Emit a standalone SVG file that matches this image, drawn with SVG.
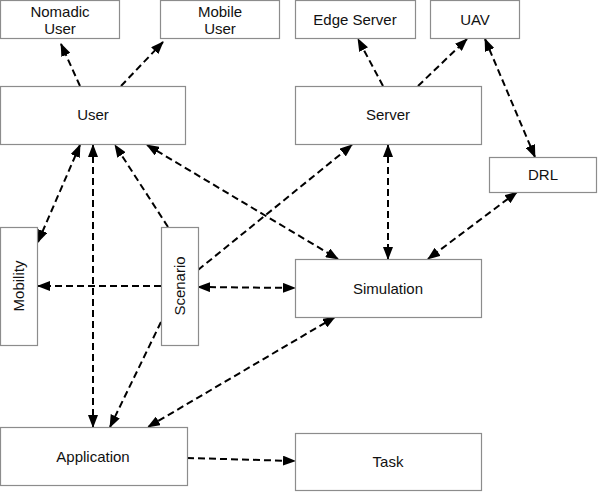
<svg xmlns="http://www.w3.org/2000/svg" width="598" height="492" viewBox="0 0 598 492">
<style>
.box{fill:#fff;stroke:#8c8c8c;stroke-width:1.2}
.t{font-family:"Liberation Sans",Arial,sans-serif;font-size:15px;fill:#111;text-anchor:middle}
.c{fill:none;stroke:#000;stroke-width:2;stroke-dasharray:7 4}
.e{marker-end:url(#a)}
.b{marker-start:url(#a);marker-end:url(#a)}
</style>
<defs>
<marker id="a" markerUnits="userSpaceOnUse" markerWidth="13" markerHeight="10" refX="12" refY="5" orient="auto-start-reverse" viewBox="0 0 13 10">
<path d="M0,0 L13,5 L0,10 z" fill="#000"/>
</marker>
</defs>
<rect width="598" height="492" fill="#fff"/>
<g id="connectors">
<path class="c e" d="M80,86 L61,44"/>
<path class="c e" d="M121,86 L163,42"/>
<path class="c e" d="M383,86 L358,39"/>
<path class="c e" d="M418,86 L467,39"/>
<path class="c b" d="M485,39 L535,157"/>
<path class="c b" d="M517,192 L428,259"/>
<path class="c b" d="M388,145 L388,259"/>
<path class="c e" d="M198,270 L352,145"/>
<path class="c b" d="M147,145 L338,259"/>
<path class="c b" d="M80,145 L38,242"/>
<path class="c b" d="M93,145 L93,427"/>
<path class="c e" d="M168,227 L115,145"/>
<path class="c e" d="M161,286 L38,286"/>
<path class="c b" d="M198,287 L295,288"/>
<path class="c e" d="M161,322 L110,427"/>
<path class="c b" d="M335,317 L148,427"/>
<path class="c e" d="M187,458 L295,461"/>
</g>
<g id="nomadic-user"><rect class="box" x="0.5" y="0.5" width="119" height="38"/><text class="t" x="60" y="17">Nomadic</text><text class="t" x="60" y="34">User</text></g>
<g id="mobile-user"><rect class="box" x="160.5" y="0.5" width="119" height="38"/><text class="t" x="220" y="17">Mobile</text><text class="t" x="220" y="34">User</text></g>
<g id="edge-server"><rect class="box" x="295.5" y="0.5" width="120" height="38"/><text class="t" x="355" y="25">Edge Server</text></g>
<g id="uav"><rect class="box" x="430.5" y="0.5" width="89" height="38"/><text class="t" x="475" y="25">UAV</text></g>
<g id="user"><rect class="box" x="0.5" y="86.5" width="185" height="58"/><text class="t" x="93" y="120">User</text></g>
<g id="server"><rect class="box" x="295.5" y="86.5" width="186" height="58"/><text class="t" x="388" y="120">Server</text></g>
<g id="drl"><rect class="box" x="489.5" y="157.5" width="107" height="35"/><text class="t" x="543" y="180">DRL</text></g>
<g id="mobility"><rect class="box" x="0.5" y="227.5" width="37" height="118"/><text class="t" transform="translate(24,286) rotate(-90)">Mobility</text></g>
<g id="scenario"><rect class="box" x="161.5" y="227.5" width="37" height="118"/><text class="t" transform="translate(185,286) rotate(-90)">Scenario</text></g>
<g id="simulation"><rect class="box" x="295.5" y="259.5" width="186" height="58"/><text class="t" x="388" y="294">Simulation</text></g>
<g id="application"><rect class="box" x="0.5" y="427.5" width="187" height="58"/><text class="t" x="93" y="462">Application</text></g>
<g id="task"><rect class="box" x="295.5" y="433.5" width="186" height="57"/><text class="t" x="388" y="467">Task</text></g>
</svg>
